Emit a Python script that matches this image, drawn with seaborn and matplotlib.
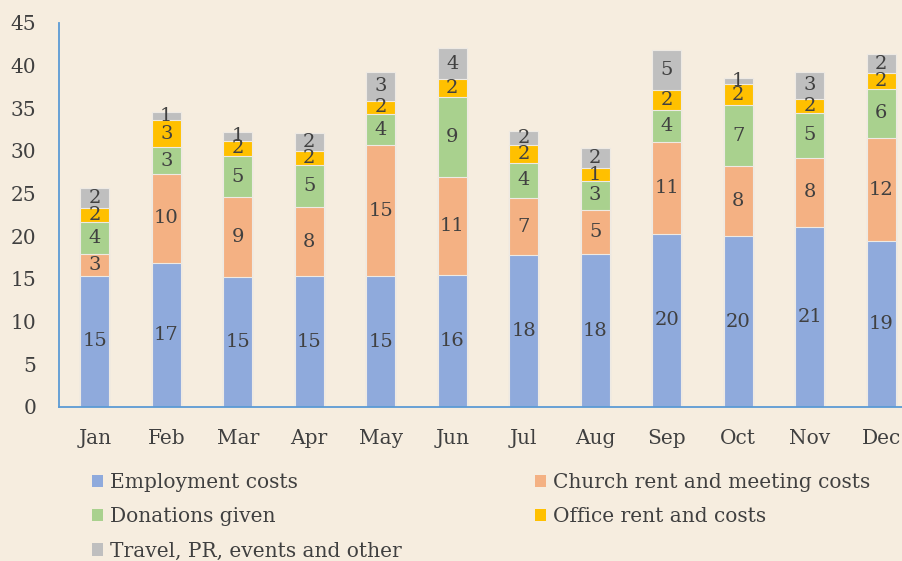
import numpy as np
import pandas as pd
import matplotlib
matplotlib.use("Agg")
import matplotlib.pyplot as plt
from matplotlib.patches import Patch
import seaborn as sns

months = ["Jan", "Feb", "Mar", "Apr", "May", "Jun", "Jul", "Aug", "Sep", "Oct", "Nov", "Dec"]
employment = [15.4, 16.9, 15.2, 15.3, 15.3, 15.5, 17.8, 17.9, 20.3, 20.0, 21.1, 19.4]
church = [2.55, 10.4, 9.4, 8.1, 15.4, 11.4, 6.7, 5.2, 10.8, 8.2, 8.1, 12.1]
donations = [3.7, 3.15, 4.8, 5.0, 3.6, 9.4, 4.1, 3.4, 3.7, 7.2, 5.3, 5.8]
office = [1.65, 3.2, 1.8, 1.65, 1.6, 2.1, 2.1, 1.45, 2.3, 2.4, 1.6, 1.8]
travel = [2.35, 0.9, 1.0, 2.1, 3.4, 3.7, 1.7, 2.45, 4.7, 0.7, 3.2, 2.3]

series_names = ["Employment costs", "Church rent and meeting costs", "Donations given",
                "Office rent and costs", "Travel, PR, events and other"]
series_vals = [employment, church, donations, office, travel]
colors = ["#8FAADC", "#F4B183", "#A9D18E", "#FFC000", "#BFBFBF"]

BG = "#F6EDDF"
TXT = "#404040"
AXC = "#5B9BD5"

sns.set_style("white")
plt.rcParams["font.family"] = ["DejaVu Serif"]

fig = plt.figure(figsize=(9.02, 5.61), dpi=100, facecolor=BG)
ax = fig.add_axes([59 / 902, (561 - 407) / 561, 858 / 902, (407 - 23) / 561])
ax.set_facecolor(BG)

vals = np.array(series_vals)
cum = np.cumsum(vals, axis=0)

# draw cumulative totals, tallest first, so each lower layer overlays the one above
for k in range(len(series_names) - 1, -1, -1):
    df = pd.DataFrame({"month": months, "value": cum[k]})
    sns.barplot(data=df, x="month", y="value", order=months, color=colors[k],
                saturation=1, width=0.405, edgecolor="#EEEAE4", linewidth=0.8, ax=ax)

# centered value labels
for k in range(len(series_names)):
    bottoms = cum[k] - vals[k]
    for i in range(len(months)):
        ax.text(i, bottoms[i] + vals[k][i] / 2, f"{vals[k][i]:.0f}", ha="center", va="center",
                fontsize=14, color=TXT)

ax.set_xlim(-0.5, 11.5)
ax.set_ylim(0, 45)
ax.set_yticks(np.arange(0, 46, 5))
ax.set_xlabel("")
ax.set_ylabel("")
ax.tick_params(axis="both", length=0, labelsize=14.5, colors=TXT)
ax.tick_params(axis="y", pad=16.5)
ax.tick_params(axis="x", pad=15.5)
for s in ["top", "right"]:
    ax.spines[s].set_visible(False)
for s in ["left", "bottom"]:
    ax.spines[s].set_color(AXC)
    ax.spines[s].set_linewidth(1.3)
ax.grid(False)

order = [0, 2, 4, 1, 3]
handles = [Patch(facecolor=colors[k], edgecolor="none") for k in order]
labels = [series_names[k] for k in order]
fig.legend(handles, labels, ncol=2, loc="upper left", bbox_to_anchor=(92 / 902, 1 - 473 / 561),
           frameon=False, fontsize=14.5, labelcolor=TXT, handlelength=0.55, handleheight=0.55,
           handletextpad=0.35, labelspacing=0.76, columnspacing=6.6, borderaxespad=0, borderpad=0)

fig.savefig("out.png", dpi=100, facecolor=BG)
